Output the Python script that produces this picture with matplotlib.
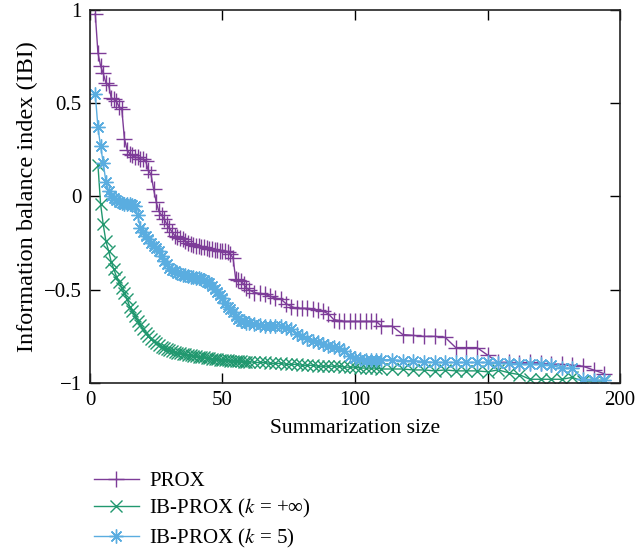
import matplotlib
matplotlib.use("Agg")
import matplotlib.pyplot as plt

plt.rcParams['font.family'] = ['Liberation Serif', 'DejaVu Serif']
plt.rcParams['mathtext.fontset'] = 'stix'

# ---------------- data ----------------
prox_x = list(range(2, 61)) + list(range(62, 111, 2)) + list(range(114, 195, 4))
prox_y = [0.98, 0.77, 0.70, 0.66, 0.61, 0.60, 0.53, 0.52, 0.51, 0.48,
          0.47, 0.31, 0.25, 0.23, 0.22, 0.21, 0.21, 0.20, 0.20, 0.19,
          0.14, 0.12, 0.04, -0.03, -0.08, -0.10, -0.12, -0.15, -0.17, -0.19,
          -0.21, -0.215, -0.22, -0.23, -0.24, -0.25, -0.255, -0.26, -0.265, -0.265,
          -0.27, -0.27, -0.275, -0.28, -0.28, -0.285, -0.285, -0.29, -0.29, -0.29,
          -0.30, -0.31, -0.33, -0.445, -0.45, -0.455, -0.47, -0.49, -0.50,
          -0.515, -0.52, -0.525, -0.535, -0.545, -0.55, -0.575, -0.59, -0.60, -0.60,
          -0.60, -0.605, -0.61, -0.615, -0.63, -0.66, -0.665, -0.67, -0.67, -0.67,
          -0.67, -0.67, -0.67, -0.67, -0.695,
          -0.695, -0.74, -0.745, -0.75, -0.75, -0.755, -0.81, -0.81, -0.81, -0.85,
          -0.89, -0.89, -0.895, -0.89, -0.895, -0.90, -0.90, -0.905, -0.91, -0.93,
          -0.95]

inf_x = list(range(3, 61)) + list(range(62, 111, 2)) + list(range(114, 195, 4))
inf_y = [0.17, -0.04, -0.15, -0.24, -0.29, -0.35, -0.39, -0.43, -0.46, -0.49,
         -0.52, -0.55, -0.59, -0.615, -0.64, -0.665, -0.69, -0.71, -0.73, -0.75,
         -0.765, -0.775, -0.785, -0.795, -0.805, -0.81, -0.82, -0.825, -0.83, -0.835,
         -0.84, -0.84, -0.845, -0.845, -0.85, -0.85, -0.855, -0.855, -0.86, -0.86,
         -0.86, -0.865, -0.865, -0.87, -0.87, -0.87, -0.875, -0.875, -0.875, -0.875,
         -0.88, -0.88, -0.88, -0.88, -0.88, -0.885, -0.885, -0.885,
         -0.89, -0.89, -0.89, -0.895, -0.895, -0.895, -0.90, -0.90, -0.90, -0.905,
         -0.905, -0.905, -0.91, -0.91, -0.91, -0.91, -0.91, -0.915, -0.915, -0.915,
         -0.92, -0.92, -0.92, -0.92, -0.925,
         -0.925, -0.925, -0.93, -0.93, -0.935, -0.93, -0.935, -0.935, -0.935, -0.94,
         -0.93, -0.945, -0.955, -0.98, -0.98, -0.98, -0.98, -0.97, -0.99, -0.99,
         -0.99]

k5_x = list(range(2, 61)) + list(range(62, 111, 2)) + list(range(114, 195, 4))
k5_y = [0.55, 0.37, 0.27, 0.18, 0.08, 0.03, 0.00, -0.01, -0.02, -0.03,
        -0.035, -0.04, -0.04, -0.04, -0.045, -0.05, -0.10, -0.17, -0.19, -0.21,
        -0.23, -0.25, -0.265, -0.275, -0.29, -0.32, -0.345, -0.36, -0.385, -0.395,
        -0.40, -0.41, -0.415, -0.42, -0.42, -0.425, -0.43, -0.43, -0.435, -0.435,
        -0.44, -0.45, -0.46, -0.465, -0.48, -0.495, -0.51, -0.53, -0.545, -0.57,
        -0.595, -0.605, -0.62, -0.64, -0.655, -0.665, -0.67, -0.68, -0.68,
        -0.685, -0.69, -0.695, -0.695, -0.695, -0.695, -0.705, -0.71, -0.735, -0.75,
        -0.765, -0.775, -0.78, -0.79, -0.80, -0.805, -0.81, -0.83, -0.855, -0.865,
        -0.87, -0.875, -0.875, -0.875, -0.875,
        -0.875, -0.88, -0.88, -0.885, -0.89, -0.89, -0.89, -0.89, -0.89, -0.89,
        -0.895, -0.895, -0.90, -0.90, -0.90, -0.905, -0.92, -0.92, -0.98, -0.985,
        -0.985]

labels = ["PROX", "IB-PROX ($k$ = +∞)", "IB-PROX ($k$ = 5)"]
colors = ["#7d3c98", "#21986f", "#5aade0"]
xticks = [0, 50, 100, 150, 200]
yticks = [-1, -0.5, 0, 0.5, 1]
ytick_labels = ["−1", "−0.5", "0", "0.5", "1"]

# ---------------- figure ----------------
fig = plt.figure(figsize=(6.35, 5.48), dpi=100)
ax = fig.add_axes([0.1417, 0.3011, 0.8347, 0.6807])

series = [(prox_x, prox_y, '+', 11), (inf_x, inf_y, 'x', 8), (k5_x, k5_y, (8, 2, 0), 10)]
handles = []
for (xs, ys, mk, ms), c, lab in zip(series, colors, labels):
    h, = ax.plot(xs, ys, color=c, marker=mk, markersize=ms, markeredgewidth=1.0,
                 linewidth=1.0, label=lab)
    handles.append(h)

ax.set_xlim(0, 200)
ax.set_ylim(-1, 1)
ax.set_xticks(xticks)
ax.set_yticks(yticks)
ax.set_yticklabels(ytick_labels)
ax.tick_params(direction='in', top=True, right=True, length=7, width=1.0,
               labelsize=15, pad=6)
for s in ax.spines.values():
    s.set_linewidth(1.2)
    s.set_color('#222222')
ax.set_xlabel("Summarization size", fontsize=15.5, labelpad=6)
ax.set_ylabel("Information balance index (IBI)", fontsize=17.5, labelpad=4)

fig.legend(handles=handles, labels=labels, loc='upper left',
           bbox_to_anchor=(0.135, 0.155), frameon=False, fontsize=15,
           handlelength=2.15, handletextpad=0.5, labelspacing=0.3,
           borderaxespad=0)

fig.savefig("out.png", dpi=100)
